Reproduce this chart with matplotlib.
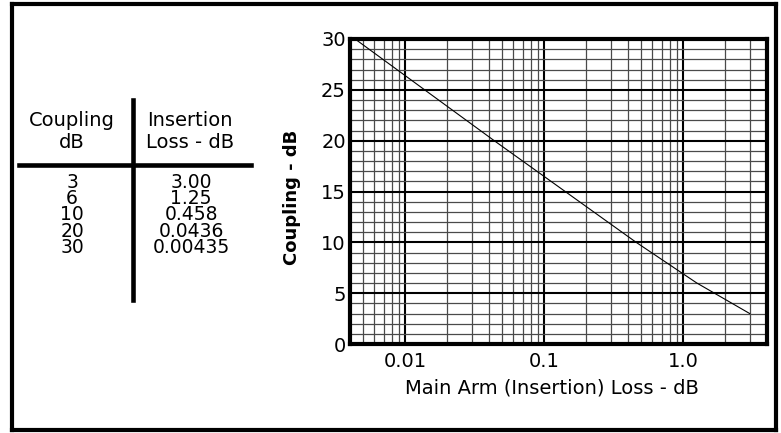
import matplotlib
matplotlib.use("Agg")
import matplotlib.pyplot as plt
from matplotlib.lines import Line2D
from matplotlib.ticker import FixedLocator, LogLocator, MultipleLocator, NullFormatter

# coupler table: coupling vs. main arm (insertion) loss
coupling_db = [3, 6, 10, 20, 30]
insertion_loss = [3.00, 1.25, 0.458, 0.0436, 0.00435]
loss_labels = ["3.00", "1.25", "0.458", "0.0436", "0.00435"]
x_ticks = [0.01, 0.1, 1.0]
x_tick_labels = ["0.01", "0.1", "1.0"]
y_ticks = [0, 5, 10, 15, 20, 25, 30]

W, H = 781, 433
plt.rcParams['font.family'] = ['DejaVu Sans']

fig = plt.figure(figsize=(W / 100, H / 100), dpi=100)


def fx(x):
  return x / W


def fy(y):
  return 1 - y / H


def fline(x0, y0, x1, y1, lw):
  fig.add_artist(Line2D([fx(x0), fx(x1)], [fy(y0), fy(y1)], transform=fig.transFigure,
                        color='black', lw=lw, solid_capstyle='projecting'))


# outer frame
fline(12, 4, 776, 4, 3)
fline(12, 4, 12, 430, 3)
fline(12, 430, 776, 430, 3)
fline(776, 4, 776, 430, 3)

# table on the left
fig.text(fx(72), fy(131.5), "Coupling\ndB", ha='center', va='center', fontsize=14,
         linespacing=1.15, multialignment='center')
fig.text(fx(190), fy(131.5), "Insertion\nLoss - dB", ha='center', va='center', fontsize=14,
         linespacing=1.15, multialignment='center')
fline(19, 165, 251, 165, 3.3)
fline(133, 100, 133, 300, 3.3)
fig.text(fx(72), fy(215), "\n".join(str(c) for c in coupling_db), ha='center', va='center',
         fontsize=13.5, linespacing=0.82, multialignment='center')
fig.text(fx(191), fy(215), "\n".join(loss_labels), ha='center', va='center',
         fontsize=13.5, linespacing=0.82, multialignment='center')

# chart
ax = fig.add_axes([fx(350), fy(344), fx(767 - 350), (344 - 39) / H])
ax.plot(insertion_loss, coupling_db, color='black', lw=0.8, zorder=3)
ax.set_xscale('log')
ax.set_xlim(0.004, 4)
ax.set_ylim(0, 30)

ax.xaxis.set_major_locator(FixedLocator(x_ticks))
ax.set_xticklabels(x_tick_labels)
ax.xaxis.set_minor_locator(LogLocator(base=10, subs=range(2, 10)))
ax.xaxis.set_minor_formatter(NullFormatter())
ax.yaxis.set_major_locator(FixedLocator(y_ticks))
ax.yaxis.set_minor_locator(MultipleLocator(1))

ax.grid(which='major', color='black', lw=1.5)
ax.grid(which='minor', color='#4a4a4a', lw=0.9)
ax.set_axisbelow(True)
ax.tick_params(which='both', length=0)
ax.tick_params(axis='x', pad=6, labelsize=14)
ax.tick_params(axis='y', pad=3, labelsize=14)
for sp in ax.spines.values():
  sp.set_linewidth(3)

fig.text(fx(552), fy(388), "Main Arm (Insertion) Loss - dB", ha='center', va='center', fontsize=14)
fig.text(fx(292), fy(197), "Coupling - dB", ha='center', va='center', rotation=90,
         fontsize=13, fontweight='bold')

fig.savefig("out.png", dpi=100)
